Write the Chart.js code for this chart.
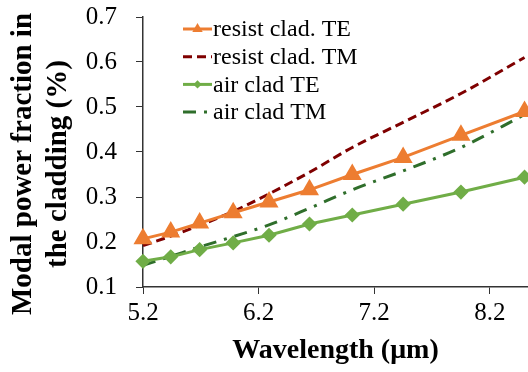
<!DOCTYPE html>
<html>
<head>
<meta charset="utf-8">
<script src="https://cdn.jsdelivr.net/npm/chart.js@4"></script>
<style>
  html, body { margin: 0; padding: 0; background: #fff; }
  #wrap { width: 528px; height: 372px; position: relative; }
</style>
</head>
<body>
<div id="wrap"><canvas id="chart"></canvas></div>
<script>
// wavelength (um) of each computed point
const wavelengths = [5.2, 5.44, 5.69, 5.98, 6.29, 6.64, 7.01, 7.45, 7.95, 8.5];

// modal power fraction in the cladding
const resistTE = [0.207, 0.222, 0.242, 0.265, 0.289, 0.316, 0.350, 0.388, 0.437, 0.490];
const resistTM = [0.192, 0.213, 0.237, 0.268, 0.307, 0.355, 0.410, 0.466, 0.530, 0.610];
const airTE    = [0.157, 0.167, 0.183, 0.198, 0.215, 0.240, 0.260, 0.284, 0.311, 0.344];
const airTM    = [0.148, 0.168, 0.189, 0.212, 0.238, 0.275, 0.316, 0.358, 0.410, 0.483];

const seriesNames = ['resist clad. TE', 'resist clad. TM', 'air clad TE', 'air clad TM'];

const xTicks = [5.2, 6.2, 7.2, 8.2];
const yTicks = [0.1, 0.2, 0.3, 0.4, 0.5, 0.6, 0.7];

const serif = "'Liberation Serif', 'Times New Roman', serif";

function pts(ys) {
    return wavelengths.map((x, i) => ({ x: x, y: ys[i] }));
}

// legend drawn inside the plot, top left
const innerLegend = {
    id: 'innerLegend',
    afterDraw(chart) {
        const ctx = chart.ctx;
        const sets = chart.data.datasets;
        const x0 = 183, x1 = 212, top = 29, step = 27.7;
        ctx.save();
        sets.forEach((ds, i) => {
            const y = top + i * step;
            ctx.strokeStyle = ds.borderColor;
            ctx.lineWidth = ds.borderWidth;
            ctx.setLineDash(ds.borderDash || []);
            ctx.beginPath();
            ctx.moveTo(x0, y);
            ctx.lineTo(x1, y);
            ctx.stroke();
            ctx.setLineDash([]);
            if (ds.pointRadius > 0) {
                ctx.fillStyle = ds.pointBackgroundColor;
                ctx.strokeStyle = ds.pointBorderColor;
                ctx.lineWidth = 1;
                Chart.helpers.drawPoint(ctx, {
                    pointStyle: ds.pointStyle,
                    radius: ds.pointRadius * 0.75,
                    rotation: 0
                }, (x0 + x1) / 2, y);
            }
            ctx.fillStyle = '#000';
            ctx.font = '24px ' + serif;
            ctx.textBaseline = 'middle';
            ctx.textAlign = 'left';
            ctx.fillText(ds.label, x1 + 1, y + 1);
        });
        ctx.restore();
    }
};

// two-line rotated y title, centred a little below the plot middle
const yTitle = {
    id: 'yTitle',
    afterDraw(chart) {
        const ctx = chart.ctx;
        ctx.save();
        ctx.fillStyle = '#000';
        ctx.font = 'bold 29px ' + serif;
        ctx.textAlign = 'center';
        ctx.textBaseline = 'middle';
        ctx.translate(0, 164);
        ctx.rotate(-Math.PI / 2);
        ctx.fillText('Modal power fraction in', 0, 24);
        ctx.fillText('the cladding (%)', 0, 59);
        ctx.restore();
    }
};

new Chart(document.getElementById('chart'), {
    type: 'line',
    data: {
        datasets: [
            {
                label: seriesNames[0],
                data: pts(resistTE),
                borderColor: '#ED7D31',
                borderWidth: 3,
                pointStyle: 'triangle',
                pointRadius: 8,
                pointBackgroundColor: '#ED7D31',
                pointBorderColor: '#ED7D31',
                clip: false
            },
            {
                label: seriesNames[1],
                data: pts(resistTM),
                borderColor: '#7F0000',
                borderWidth: 3,
                borderDash: [9, 5],
                pointRadius: 0,
                cubicInterpolationMode: 'monotone',
                clip: false
            },
            {
                label: seriesNames[2],
                data: pts(airTE),
                borderColor: '#70AD47',
                borderWidth: 3,
                pointStyle: 'rectRot',
                pointRadius: 5.5,
                pointBackgroundColor: '#70AD47',
                pointBorderColor: '#70AD47',
                clip: false
            },
            {
                label: seriesNames[3],
                data: pts(airTM),
                borderColor: '#2F6E2B',
                borderWidth: 3,
                borderDash: [13, 8, 3, 8],
                pointRadius: 0,
                cubicInterpolationMode: 'monotone',
                clip: false
            }
        ]
    },
    options: {
        responsive: true,
        maintainAspectRatio: false,
        animation: false,
        layout: { autoPadding: false, padding: { top: 17, right: 0, left: 0, bottom: 0 } },
        plugins: {
            legend: { display: false },
            tooltip: { enabled: false }
        },
        scales: {
            x: {
                type: 'linear',
                min: 5.2,
                max: 8.53,
                afterBuildTicks: (s) => { s.ticks = xTicks.map(v => ({ value: v })); },
                afterFit: (s) => { s.height = 85; s.paddingLeft = 0; s.paddingRight = 0; },
                ticks: {
                    color: '#000',
                    font: { family: serif, size: 25 },
                    padding: 4,
                    callback: (v) => v.toFixed(1)
                },
                grid: { drawOnChartArea: false, tickLength: 7, color: '#333' },
                border: { color: '#333', width: 1.5 },
                title: {
                    display: true,
                    text: 'Wavelength (μm)',
                    color: '#000',
                    font: { family: serif, size: 28, weight: 'bold' },
                    padding: { top: 0 }
                }
            },
            y: {
                min: 0.1,
                max: 0.7,
                afterBuildTicks: (s) => { s.ticks = yTicks.map(v => ({ value: v })); },
                afterFit: (s) => { s.width = 143; s.paddingTop = 0; s.paddingBottom = 0; },
                ticks: {
                    color: '#000',
                    font: { family: serif, size: 25 },
                    padding: 19,
                    callback: (v) => v.toFixed(1)
                },
                grid: { drawOnChartArea: false, tickLength: 7, color: '#333' },
                border: { color: '#333', width: 1.5 }
            }
        }
    },
    plugins: [innerLegend, yTitle]
});
</script>
</body>
</html>
